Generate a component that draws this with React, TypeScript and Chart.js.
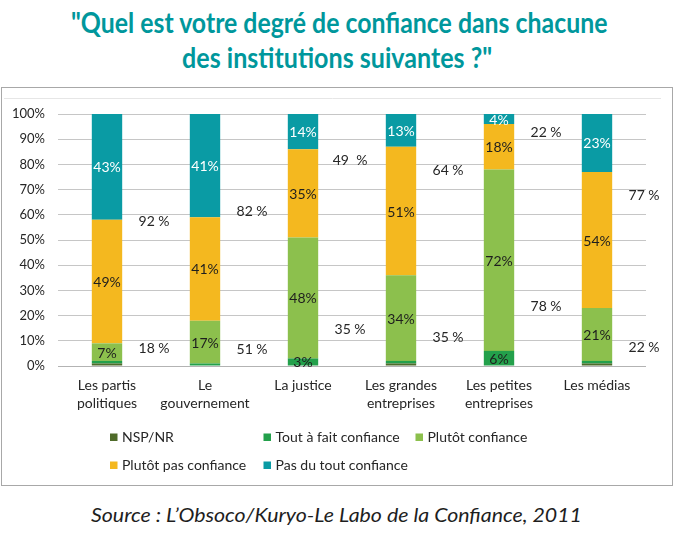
import React, { useEffect, useLayoutEffect, useRef, useState } from "react";
import { Chart, registerables } from "chart.js";

Chart.register(...registerables);

// Institutions (x categories)
const categories: (string | string[])[] = [
  ["Les partis", "politiques"],
  ["Le", "gouvernement"],
  "La justice",
  ["Les grandes", "entreprises"],
  ["Les petites", "entreprises"],
  "Les médias",
];

// Answer shares, in percent, bottom to top of each stacked bar
const nspNr = [1, 0, 0, 1, 0, 1];
const toutAFaitConfiance = [1, 1, 3, 1, 6, 1];
const plutotConfiance = [7, 17, 48, 34, 72, 21];
const plutotPasConfiance = [49, 41, 35, 51, 18, 54];
const pasDuToutConfiance = [43, 41, 14, 13, 4, 23];

const seriesNames = [
  "NSP/NR",
  "Tout à fait confiance",
  "Plutôt confiance",
  "Plutôt pas confiance",
  "Pas du tout confiance",
];

// Side figures printed next to each bar, and the percent level they sit at
const upperSideLabels = ["92 %", "82 %", "49  %", "64 %", "22 %", "77 %"];
const upperSideLevels = [57.3, 61.3, 81.5, 77.6, 92.5, 67.5];
const lowerSideLabels = ["18 %", "51 %", "35 %", "35 %", "78 %", "22 %"];
const lowerSideLevels = [6.9, 6.6, 14.6, 11.3, 23.5, 7.2];

const yTickValues = [0, 10, 20, 30, 40, 50, 60, 70, 80, 90, 100];

const COLORS = ["#4f6b2a", "#23a04b", "#8cc04d", "#f4b81f", "#0a9ba4"];
const LABEL_COLORS = ["#1e1e1e", "#1e1e1e", "#1e1e1e", "#1e1e1e", "#ffffff"];
const FONT = "Lato, 'Noto Sans', sans-serif";
const TEXT = "#262626";

const CANVAS_W = 670;
const CANVAS_H = 397;

const segmentLabels = {
  id: "segmentLabels",
  afterDatasetsDraw(chart: any) {
    const ctx = chart.ctx;
    ctx.save();
    ctx.font = `14px ${FONT}`;
    ctx.textAlign = "center";
    ctx.textBaseline = "middle";
    chart.data.datasets.forEach((ds: any, di: number) => {
      const meta = chart.getDatasetMeta(di);
      meta.data.forEach((bar: any, i: number) => {
        const v = ds.data[i];
        if (v < 3) return;
        const { x, y, base } = bar.getProps(["x", "y", "base"], true);
        const top = Math.max(y, chart.chartArea.top);
        ctx.fillStyle = LABEL_COLORS[di];
        ctx.fillText(`${v}%`, x, (top + base) / 2 + 1);
      });
    });
    ctx.restore();
  },
};

const sideFigures = {
  id: "sideFigures",
  afterDatasetsDraw(chart: any) {
    const ctx = chart.ctx;
    const xs = chart.scales.x;
    const ys = chart.scales.y;
    const step = xs.width / categories.length;
    ctx.save();
    ctx.font = `14px ${FONT}`;
    ctx.textAlign = "center";
    ctx.textBaseline = "middle";
    ctx.fillStyle = TEXT;
    categories.forEach((_, i) => {
      const x = xs.getPixelForValue(i) + step * 0.48;
      ctx.fillText(upperSideLabels[i], x, ys.getPixelForValue(upperSideLevels[i]));
      ctx.fillText(lowerSideLabels[i], x, ys.getPixelForValue(lowerSideLevels[i]));
    });
    ctx.restore();
  },
};

const gridLegend = {
  id: "gridLegend",
  beforeDraw(chart: any) {
    const ctx = chart.ctx;
    ctx.save();
    ctx.strokeStyle = "#e6e6e6";
    ctx.lineWidth = 1;
    ctx.beginPath();
    ctx.moveTo(2, 10.5);
    ctx.lineTo(659, 10.5);
    ctx.stroke();
    ctx.restore();
  },
  afterDraw(chart: any) {
    const ctx = chart.ctx;
    const cols = [108, 261.5, 413.5];
    const rows = [349, 377];
    ctx.save();
    ctx.font = `14px ${FONT}`;
    ctx.textBaseline = "middle";
    ctx.textAlign = "left";
    seriesNames.forEach((name, i) => {
      const x = cols[i % 3];
      const y = rows[Math.floor(i / 3)];
      ctx.fillStyle = COLORS[i];
      ctx.fillRect(x, y - 3.5, 7.5, 7.5);
      ctx.fillStyle = TEXT;
      ctx.fillText(name, x + 12, y);
    });
    ctx.restore();
  },
};

function FittedLine(props: {
  text: string;
  top: number;
  centerX: number;
  width: number;
  size: number;
  weight: number;
  italic?: boolean;
  color: string;
}) {
  const ref = useRef<HTMLSpanElement>(null);
  const [scale, setScale] = useState(1);
  useLayoutEffect(() => {
    if (ref.current && ref.current.offsetWidth > 0) {
      setScale(props.width / ref.current.offsetWidth);
    }
  }, [props.text, props.width]);
  return (
    <div
      style={{
        position: "absolute",
        left: props.centerX - 400,
        width: 800,
        top: props.top,
        textAlign: "center",
        whiteSpace: "pre",
      }}
    >
      <span
        ref={ref}
        style={{
          display: "inline-block",
          fontFamily: FONT,
          fontSize: props.size,
          fontWeight: props.weight,
          fontStyle: props.italic ? "italic" : "normal",
          lineHeight: 1,
          color: props.color,
          transform: `scaleX(${scale})`,
          transformOrigin: "center",
        }}
      >
        {props.text}
      </span>
    </div>
  );
}

export default function App() {
  const canvasRef = useRef<HTMLCanvasElement>(null);

  useEffect(() => {
    const seriesData = [nspNr, toutAFaitConfiance, plutotConfiance, plutotPasConfiance, pasDuToutConfiance];
    const chart = new Chart(canvasRef.current!, {
      type: "bar",
      data: {
        labels: categories as any,
        datasets: seriesData.map((d, i) => ({
          label: seriesNames[i],
          data: d,
          backgroundColor: COLORS[i],
          borderWidth: 0,
          barPercentage: 0.31,
          categoryPercentage: 1,
        })),
      },
      options: {
        responsive: false,
        animation: false,
        devicePixelRatio: 1,
        layout: { padding: { top: 26, right: 26, bottom: 0, left: 0 } },
        plugins: {
          legend: { display: false },
          tooltip: { enabled: false },
          title: { display: false },
        },
        scales: {
          x: {
            stacked: true,
            grid: { display: false, drawTicks: false },
            border: { display: false },
            ticks: {
              color: TEXT,
              font: { family: FONT, size: 14, lineHeight: 1.3 },
              padding: 10,
              maxRotation: 0,
              autoSkip: false,
            },
            afterFit(scale: any) {
              scale.height = 119;
            },
          },
          y: {
            stacked: true,
            min: 0,
            max: 100,
            afterBuildTicks(scale: any) {
              scale.ticks = yTickValues.map((v) => ({ value: v }));
            },
            grid: {
              color: (c: any) => (c.tick && c.tick.value === 0 ? "#b3b3b3" : "#c6c6c6"),
              drawTicks: false,
              lineWidth: 1,
            },
            border: { display: false },
            ticks: {
              color: TEXT,
              font: { family: FONT, size: 13 },
              padding: 13,
              callback: (v: any) => `${v}%`,
            },
            afterFit(scale: any) {
              scale.width = 56;
            },
          },
        },
      },
      plugins: [gridLegend, segmentLabels, sideFigures],
    });
    return () => chart.destroy();
  }, []);

  return (
    <div
      style={{
        position: "absolute",
        left: 0,
        top: 0,
        width: 674,
        height: 537,
        background: "#ffffff",
        overflow: "hidden",
      }}
    >
      <FittedLine
        text={'"Quel est votre degré de confiance dans chacune'}
        top={8}
        centerX={339}
        width={536}
        size={28}
        weight={700}
        color="#00979c"
      />
      <FittedLine
        text={'des institutions suivantes ?"'}
        top={43}
        centerX={337}
        width={310}
        size={28}
        weight={700}
        color="#00979c"
      />
      <div
        style={{
          position: "absolute",
          left: 1,
          top: 87,
          width: CANVAS_W,
          height: CANVAS_H,
          border: "1px solid #a8a8a8",
        }}
      >
        <canvas ref={canvasRef} width={CANVAS_W} height={CANVAS_H} style={{ display: "block" }} />
      </div>
      <FittedLine
        text="Source : L’Obsoco/Kuryo-Le Labo de la Confiance, 2011"
        top={505}
        centerX={337}
        width={491}
        size={19}
        weight={400}
        italic
        color="#1e1e1e"
      />
    </div>
  );
}
